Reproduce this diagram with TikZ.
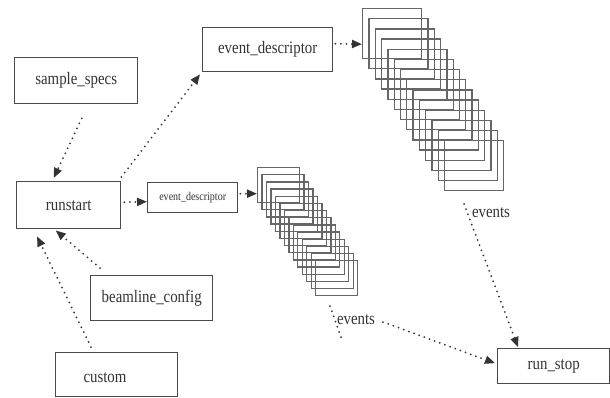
\documentclass[tikz,border=0pt]{standalone}
\usepackage{fontspec}
\setmainfont[FakeStretch=0.85]{Liberation Serif}
\usetikzlibrary{arrows.meta,calc}

\definecolor{inkgray}{HTML}{333333}
\definecolor{boxgray}{HTML}{4A4A4A}
\definecolor{stackgray}{HTML}{666666}

\tikzset{
  box/.style={draw=boxgray, line width=1.4pt, inner sep=0pt, anchor=north west,
    text=inkgray, font=\fontsize{17.5}{20}\selectfont},
  smallbox/.style={box, font=\fontsize{11.8}{14}\selectfont},
  txt/.style={text=inkgray, inner sep=0pt, font=\fontsize{17.5}{20}\selectfont},
  frame/.style={draw=stackgray, line width=1.3pt, inner sep=0pt, anchor=north west},
  flow/.style={draw=inkgray, line width=2pt, line cap=round,
    dash pattern=on 0pt off 5.5pt,
    -{Triangle[length=10pt,width=8pt,fill=inkgray]}},
  trail/.style={draw=inkgray, line width=2pt, line cap=round,
    dash pattern=on 0pt off 5.5pt}
}

\begin{document}
\begin{tikzpicture}[x=1pt,y=-1pt]
\useasboundingbox (0,0) rectangle (610,397);

% record boxes
\node[box, minimum width=123pt, minimum height=46pt] (sample) at (14,57) {sample\_specs};
\node[box, minimum width=130pt, minimum height=44pt] (ed1) at (202,27) {event\_descriptor};
\node[box, minimum width=104pt, minimum height=47pt] (runstart) at (16,181) {runstart};
\node[smallbox, minimum width=90pt, minimum height=30pt] (ed2) at (147,182) {event\_descriptor};
\node[box, minimum width=122pt, minimum height=45pt] (beam) at (90,275) {beamline\_config};
\node[box, minimum width=122pt, minimum height=44pt] (custom) at (55,352) {};
\node[txt] (customtxt) at (105,378) {custom};
\node[box, minimum width=112pt, minimum height=35pt] (runstop) at (497,348) {run\_stop};

% stacks of event frames
\foreach \i in {0,...,13}{
  \node[frame, minimum width=59pt, minimum height=50pt] (big\i) at (362+6.31*\i, 8+10.15*\i) {};
}
\foreach \i in {0,...,13}{
  \node[frame, minimum width=42pt, minimum height=35pt] (small\i) at (257+4.46*\i, 167+7.15*\i) {};
}

% edge labels
\node[txt] (evbig) at (491,213) {events};
\node[txt] (evsmall) at (356,320) {events};
\coordinate (evbigstart) at (464,204);
\coordinate (evsmallstart) at (330,306);
\coordinate (evsmallend) at (342,340);
\coordinate (evsmallout) at (383,322);

% connectors
\draw[flow] ($(sample.south)+(5.5,14)$) -- ($(runstart.north)+(-15,-3)$);
\draw[flow] ($(runstart.north east)+(0,-4)$) -- ($(ed1.south west)+(-2,2)$);
\draw[flow] ($(runstart.east)+(3,-3)$) -- ($(ed2.west)+(0,4)$);
\draw[flow] ($(ed1.east)+(2,-6)$) -- ($(big0.west)+(0,10.5)$);
\draw[flow] ($(ed2.east)+(2,-4)$) -- ($(small0.west)+(0,8.5)$);
\draw[flow] ($(beam.north west)+(10,-7)$) -- ($(runstart.south)+(-13,1)$);
\draw[flow] ($(custom.north west)+(36,-5)$) -- ($(runstart.south west)+(21,7)$);
\draw[flow] (evbigstart) -- ($(runstop.north west)+(21,-1)$);
\draw[trail] (evsmallstart) -- (evsmallend);
\draw[flow] (evsmallout) -- ($(runstop.west)+(-2,-3)$);
\end{tikzpicture}
\end{document}
